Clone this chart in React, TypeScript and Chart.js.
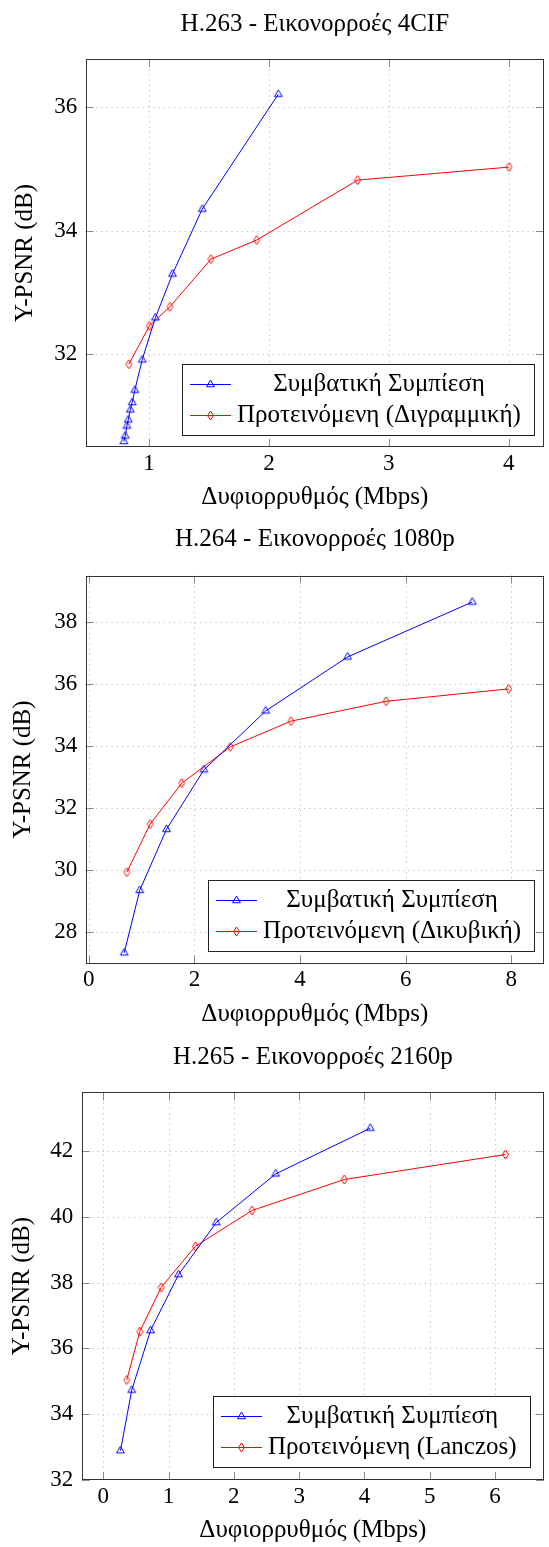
import React, { useEffect, useRef } from 'react';
import { Chart, registerables } from 'chart.js';

Chart.register(...registerables);

const FONT = '"Liberation Serif", "DejaVu Serif", serif';
const FS = 23;
const FS_TEXT = 25;

const X_LABEL = 'Δυφιορρυθμός (Mbps)';
const Y_LABEL = 'Y-PSNR (dB)';
const CONV_LABEL = 'Συμβατική Συμπίεση';

// ---- Chart 1: H.263 ----
const h263Title = 'H.263 - Εικονορροές 4CIF';
const h263PropLabel = 'Προτεινόμενη (Διγραμμική)';
const h263ConvX = [0.79, 0.801, 0.815, 0.826, 0.843, 0.859, 0.881, 0.942, 1.052, 1.195, 1.443, 2.078];
const h263ConvY = [30.59, 30.68, 30.84, 30.94, 31.1, 31.22, 31.42, 31.91, 32.59, 33.3, 34.35, 36.21];
const h263PropX = [0.831, 1.002, 1.174, 1.515, 1.898, 2.74, 4.002];
const h263PropY = [31.84, 32.46, 32.77, 33.54, 33.85, 34.82, 35.03];
const h263XTicks = [1, 2, 3, 4];
const h263YTicks = [32, 34, 36];

// ---- Chart 2: H.264 ----
const h264Title = 'H.264 - Εικονορροές 1080p';
const h264PropLabel = 'Προτεινόμενη (Δικυβική)';
const h264ConvX = [0.67, 0.963, 1.47, 2.18, 3.35, 4.9, 7.26];
const h264ConvY = [27.34, 29.35, 31.32, 33.24, 35.14, 36.88, 38.65];
const h264PropX = [0.72, 1.16, 1.76, 2.68, 3.83, 5.63, 7.95];
const h264PropY = [29.94, 31.49, 32.81, 33.98, 34.81, 35.45, 35.85];
const h264XTicks = [0, 2, 4, 6, 8];
const h264YTicks = [28, 30, 32, 34, 36, 38];

// ---- Chart 3: H.265 ----
const h265Title = 'H.265 - Εικονορροές 2160p';
const h265PropLabel = 'Προτεινόμενη (Lanczos)';
const h265ConvX = [0.264, 0.436, 0.724, 1.153, 1.73, 2.64, 4.09];
const h265ConvY = [32.89, 34.73, 36.54, 38.24, 39.82, 41.3, 42.69];
const h265PropX = [0.36, 0.56, 0.886, 1.41, 2.28, 3.69, 6.16];
const h265PropY = [35.04, 36.51, 37.85, 39.1, 40.19, 41.13, 41.89];
const h265XTicks = [0, 1, 2, 3, 4, 5, 6];
const h265YTicks = [32, 34, 36, 38, 40, 42];

const BLUE = '#0000ff';
const RED = '#ff0000';

function makeTriangle(color: string) {
  const c = document.createElement('canvas');
  c.width = 11;
  c.height = 11;
  const g = c.getContext('2d')!;
  const cx = 5.5, cy = 5.5, r = 4.5;
  g.strokeStyle = color;
  g.lineWidth = 1;
  g.beginPath();
  g.moveTo(cx, cy - r);
  g.lineTo(cx - r * 0.866, cy + r / 2);
  g.lineTo(cx + r * 0.866, cy + r / 2);
  g.closePath();
  g.stroke();
  return c;
}

function makeDiamond(color: string) {
  const c = document.createElement('canvas');
  c.width = 9;
  c.height = 11;
  const g = c.getContext('2d')!;
  const cx = 4.5, cy = 5.5, hw = 3, hh = 4.5;
  g.strokeStyle = color;
  g.lineWidth = 1;
  g.beginPath();
  g.moveTo(cx, cy - hh);
  g.lineTo(cx + hw, cy);
  g.lineTo(cx, cy + hh);
  g.lineTo(cx - hw, cy);
  g.closePath();
  g.stroke();
  return c;
}

const framePlugin = {
  id: 'frame',
  beforeDatasetsDraw(chart: any) {
    const { ctx, chartArea: a, scales } = chart;
    const x = scales.x, y = scales.y;
    ctx.save();
    ctx.beginPath();
    ctx.rect(a.left, a.top, a.right - a.left, a.bottom - a.top);
    ctx.clip();
    ctx.strokeStyle = '#bdbdbd';
    ctx.lineWidth = 1;
    ctx.setLineDash([1.2, 4]);
    for (const t of x.ticks) {
      const px = Math.round(x.getPixelForValue(t.value)) + 0.5;
      ctx.beginPath();
      ctx.moveTo(px, a.top);
      ctx.lineTo(px, a.bottom);
      ctx.stroke();
    }
    for (const t of y.ticks) {
      const py = Math.round(y.getPixelForValue(t.value)) + 0.5;
      ctx.beginPath();
      ctx.moveTo(a.left, py);
      ctx.lineTo(a.right, py);
      ctx.stroke();
    }
    ctx.restore();
  },
  afterDatasetsDraw(chart: any) {
    const { ctx, chartArea: a, scales } = chart;
    const x = scales.x, y = scales.y;
    const L = 8;
    ctx.save();
    ctx.setLineDash([]);
    ctx.strokeStyle = '#8a8a8a';
    ctx.lineWidth = 1;
    for (const t of x.ticks) {
      const px = Math.round(x.getPixelForValue(t.value)) + 0.5;
      ctx.beginPath();
      ctx.moveTo(px, a.bottom);
      ctx.lineTo(px, a.bottom - L);
      ctx.moveTo(px, a.top);
      ctx.lineTo(px, a.top + L);
      ctx.stroke();
    }
    for (const t of y.ticks) {
      const py = Math.round(y.getPixelForValue(t.value)) + 0.5;
      ctx.beginPath();
      ctx.moveTo(a.left, py);
      ctx.lineTo(a.left + L, py);
      ctx.moveTo(a.right, py);
      ctx.lineTo(a.right - L, py);
      ctx.stroke();
    }
    ctx.strokeStyle = '#333333';
    ctx.strokeRect(Math.round(a.left) + 0.5, Math.round(a.top) + 0.5, Math.round(a.right - a.left) - 1, Math.round(a.bottom - a.top) - 1);
    ctx.restore();
  },
};

const legendPlugin = {
  id: 'boxLegend',
  afterDraw(chart: any, _args: any, opts: any) {
    const { ctx, chartArea: a } = chart;
    const ds = chart.data.datasets;
    ctx.save();
    ctx.font = `${FS_TEXT}px ${FONT}`;
    const tw = Math.max(...ds.map((d: any) => ctx.measureText(d.label).width));
    const w = opts.padLeft + opts.lineLen + opts.gap + tw + opts.padRight;
    const h = opts.height;
    const bx = Math.round(a.right - opts.right - w);
    const by = Math.round(a.bottom - opts.bottom - h);
    ctx.fillStyle = '#ffffff';
    ctx.fillRect(bx, by, w, h);
    ctx.strokeStyle = '#222222';
    ctx.lineWidth = 1;
    ctx.strokeRect(bx + 0.5, by + 0.5, Math.round(w), h);
    ds.forEach((d: any, i: number) => {
      const ry = Math.round(by + opts.rowStart + i * opts.rowGap) + 0.5;
      const lx = bx + opts.padLeft;
      ctx.strokeStyle = d.borderColor;
      ctx.lineWidth = 1;
      ctx.beginPath();
      ctx.moveTo(lx, ry);
      ctx.lineTo(lx + opts.lineLen, ry);
      ctx.stroke();
      const img = d.pointStyle;
      const mx = lx + opts.lineLen / 2;
      ctx.drawImage(img, Math.round(mx - img.width / 2), Math.round(ry - img.height / 2));
      ctx.fillStyle = '#000000';
      ctx.textAlign = 'center';
      ctx.textBaseline = 'middle';
      ctx.fillText(d.label, lx + opts.lineLen + opts.gap + tw / 2, ry);
    });
    ctx.restore();
  },
};

type Geo = {
  height: number;
  yAxisW: number;
  padRight: number;
  xAxisH: number;
  titlePadTop: number;
  titlePadBottom: number;
  xTitlePad: number;
  yTitlePad: number;
  legRight: number;
  legBottom: number;
};

function buildConfig(
  title: string,
  convX: number[], convY: number[],
  propX: number[], propY: number[], propLabel: string,
  xMin: number, xMax: number, yMin: number, yMax: number,
  xTicks: number[], yTicks: number[], geo: Geo
): any {
  const font = { family: FONT, size: FS, lineHeight: 1.2 };
  const tfont = { family: FONT, size: FS_TEXT, lineHeight: 1.2, weight: 'normal' };
  return {
    type: 'line',
    data: {
      datasets: [
        {
          label: CONV_LABEL,
          data: convX.map((x, i) => ({ x, y: convY[i] })),
          borderColor: BLUE,
          borderWidth: 1,
          pointStyle: makeTriangle(BLUE),
          pointRadius: 4,
          tension: 0,
          fill: false,
        },
        {
          label: propLabel,
          data: propX.map((x, i) => ({ x, y: propY[i] })),
          borderColor: RED,
          borderWidth: 1,
          pointStyle: makeDiamond(RED),
          pointRadius: 4,
          tension: 0,
          fill: false,
        },
      ],
    },
    options: {
      responsive: false,
      animation: false,
      events: [],
      layout: { padding: { left: 0, right: geo.padRight, top: 0, bottom: 0 } },
      scales: {
        x: {
          type: 'linear',
          min: xMin,
          max: xMax,
          afterBuildTicks: (s: any) => { s.ticks = xTicks.map((v) => ({ value: v })); },
          afterFit: (s: any) => { s.height = geo.xAxisH; },
          grid: { display: false, drawTicks: false },
          border: { display: false },
          ticks: { padding: 2.7, color: '#000', font, maxRotation: 0, autoSkip: false, callback: (v: any) => String(v) },
          title: { display: true, text: X_LABEL, color: '#000', font: tfont, padding: { top: 0, bottom: geo.xTitlePad - 1.2 } },
        },
        y: {
          type: 'linear',
          min: yMin,
          max: yMax,
          afterBuildTicks: (s: any) => { s.ticks = yTicks.map((v) => ({ value: v })); },
          afterFit: (s: any) => { s.width = geo.yAxisW; },
          grid: { display: false, drawTicks: false },
          border: { display: false },
          ticks: { padding: 8.4, color: '#000', font, autoSkip: false, callback: (v: any) => String(v) },
          title: { display: true, text: Y_LABEL, color: '#000', font: tfont, padding: { top: geo.yTitlePad - 1.2, bottom: 0 } },
        },
      },
      plugins: {
        legend: { display: false },
        tooltip: { enabled: false },
        title: {
          display: true,
          text: title,
          fullSize: false,
          color: '#000',
          font: tfont,
          padding: { top: geo.titlePadTop - 1.2, bottom: geo.titlePadBottom - 1.2 },
        },
        boxLegend: {
          right: geo.legRight,
          bottom: geo.legBottom,
          padLeft: 8,
          lineLen: 41,
          gap: 6,
          padRight: 13,
          height: 71,
          rowStart: 19.5,
          rowGap: 31,
        },
      },
    },
    plugins: [framePlugin, legendPlugin],
  };
}

function PlotCanvas({ top, height, make }: { top: number; height: number; make: () => any }) {
  const ref = useRef<HTMLCanvasElement | null>(null);
  useEffect(() => {
    const chart = new Chart(ref.current as HTMLCanvasElement, make());
    return () => chart.destroy();
  }, []);
  return (
    <canvas
      ref={ref}
      width={549}
      height={height}
      style={{ position: 'absolute', left: 0, top, width: 549, height, display: 'block' }}
    />
  );
}

const geo1: Geo = { height: 520, yAxisW: 85.7, padRight: 1, xAxisH: 73, titlePadTop: 10.7, titlePadBottom: 20.7, xTitlePad: 8.7, yTitlePad: 11.2, legRight: 10.3, legBottom: 12 };
const geo2: Geo = { height: 520, yAxisW: 85.7, padRight: 1, xAxisH: 76.7, titlePadTop: 5.2, titlePadBottom: 22.9, xTitlePad: 12.2, yTitlePad: 9.5, legRight: 10.3, legBottom: 12.3 };
const geo3: Geo = { height: 507, yAxisW: 81.7, padRight: 1, xAxisH: 67, titlePadTop: 3.2, titlePadBottom: 21.5, xTitlePad: 3.2, yTitlePad: 8.7, legRight: 14.3, legBottom: 12.7 };

export default function App() {
  return (
    <div style={{ position: 'absolute', left: 0, top: 0, width: 549, height: 1547, background: '#fff' }}>
      <PlotCanvas
        top={0}
        height={geo1.height}
        make={() => buildConfig(h263Title, h263ConvX, h263ConvY, h263PropX, h263PropY, h263PropLabel, 0.471, 4.295, 30.5, 36.78, h263XTicks, h263YTicks, geo1)}
      />
      <PlotCanvas
        top={520}
        height={geo2.height}
        make={() => buildConfig(h264Title, h264ConvX, h264ConvY, h264PropX, h264PropY, h264PropLabel, -0.06, 8.62, 27.0, 39.5, h264XTicks, h264YTicks, geo2)}
      />
      <PlotCanvas
        top={1040}
        height={geo3.height}
        make={() => buildConfig(h265Title, h265ConvX, h265ConvY, h265PropX, h265PropY, h265PropLabel, -0.33, 6.75, 32.0, 43.78, h265XTicks, h265YTicks, geo3)}
      />
    </div>
  );
}
